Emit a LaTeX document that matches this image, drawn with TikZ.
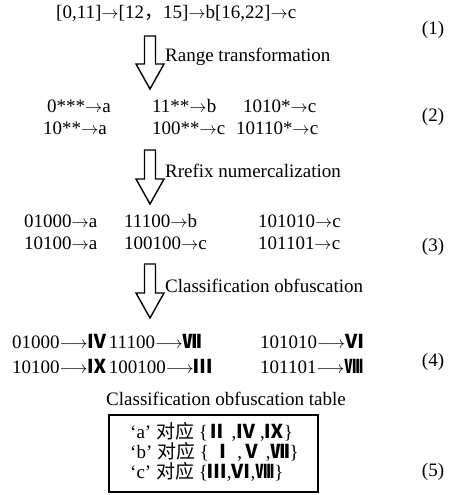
\documentclass[tikz,border=0pt]{standalone}
\usepackage{fontspec}
\setmainfont{Liberation Serif}
\newfontfamily\cjk{Noto Sans CJK SC}
\newcommand\ra{\ensuremath{\rightarrow}}
\newcommand\lra{\ensuremath{\longrightarrow}}
\newcommand\rn[1]{{\cjk\bfseries #1}}
\tikzset{
  txt/.style={inner sep=0pt, anchor=west, font=\fontsize{19}{22}\selectfont},
  lbl/.style={inner sep=0pt, font=\fontsize{19}{22}\selectfont},
  arrowline/.style={draw, line width=1.4pt, fill=white},
  tablebox/.style={draw, line width=1.5pt}
}
\newcommand\hollowdown[3]{%
  \draw[arrowline] (#1-5.5,#2) -- (#1+5.5,#2) -- (#1+5.5,#3-25) -- (#1+14,#3-25)
    -- (#1,#3) -- (#1-14,#3-25) -- (#1-5.5,#3-25) -- cycle;}
\begin{document}
\begin{tikzpicture}[x=1pt,y=-1pt]
\useasboundingbox (0,0) rectangle (460,495);
% row 1
\node[txt] (r1) at (56,13) {[0,11]\ra[12{\cjk ，}15]\ra b[16,22]\ra c};
\node[lbl] (n1) at (433,30) {(1)};
% arrow 1
\hollowdown{150}{36}{89}
\node[txt] (t1) at (165,57) {Range transformation};
% row 2
\node[txt] (a21) at (47,106) {0***\ra a};
\node[txt] (a22) at (152,106) {11**\ra b};
\node[txt] (a23) at (243,106) {1010*\ra c};
\node[txt] (b21) at (43,128) {10**\ra a};
\node[txt] (b22) at (152,128) {100**\ra c};
\node[txt] (b23) at (236,128) {10110*\ra c};
\node[lbl] (n2) at (433,117) {(2)};
% arrow 2
\hollowdown{150}{150}{204}
\node[txt] (t2) at (165,171) {Rrefix numercalization};
% row 3
\node[txt] (a31) at (24,221) {01000\ra a};
\node[txt] (a32) at (124,221) {11100\ra b};
\node[txt] (a33) at (258,221) {101010\ra c};
\node[txt] (b31) at (24,243) {10100\ra a};
\node[txt] (b32) at (124,243) {100100\ra c};
\node[txt] (b33) at (258,243) {101101\ra c};
\node[lbl] (n3) at (433,247) {(3)};
% arrow 3
\hollowdown{150}{264}{318}
\node[txt] (t3) at (165,286) {Classification obfuscation};
% row 4
\node[txt] (a41) at (12,341) {01000\lra\rn{Ⅳ}};
\node[txt] (a42) at ([xshift=2pt]a41.east) {11100\lra\rn{Ⅶ}};
\node[txt] (a43) at (260,341) {101010\lra\rn{Ⅵ}};
\node[txt] (b41) at (12,366) {10100\lra\rn{Ⅸ}};
\node[txt] (b42) at ([xshift=2pt]b41.east) {100100\lra\rn{Ⅲ}};
\node[txt] (b43) at (260,366) {101101\lra\rn{Ⅷ}};
\node[lbl] (n4) at (433,362) {(4)};
% table
\node[lbl] (tt) at (226,399) {Classification obfuscation table};
\draw[tablebox] (109,415) rectangle (318,492);
\node[txt] (c1) at (130,432) {‘a’ {\cjk 对应} \{\rn{Ⅱ} ,\rn{Ⅳ} ,\rn{Ⅸ}\}};
\node[txt] (c2) at (130,452) {‘b’ {\cjk 对应} \{ \rn{Ⅰ} ,\rn{Ⅴ} ,\rn{Ⅶ}\}};
\node[txt] (c3) at (130,472) {‘c’ {\cjk 对应} \{\rn{Ⅲ},\rn{Ⅵ},\rn{Ⅷ}\}};
\node[lbl] (n5) at (433,472) {(5)};
\end{tikzpicture}
\end{document}
